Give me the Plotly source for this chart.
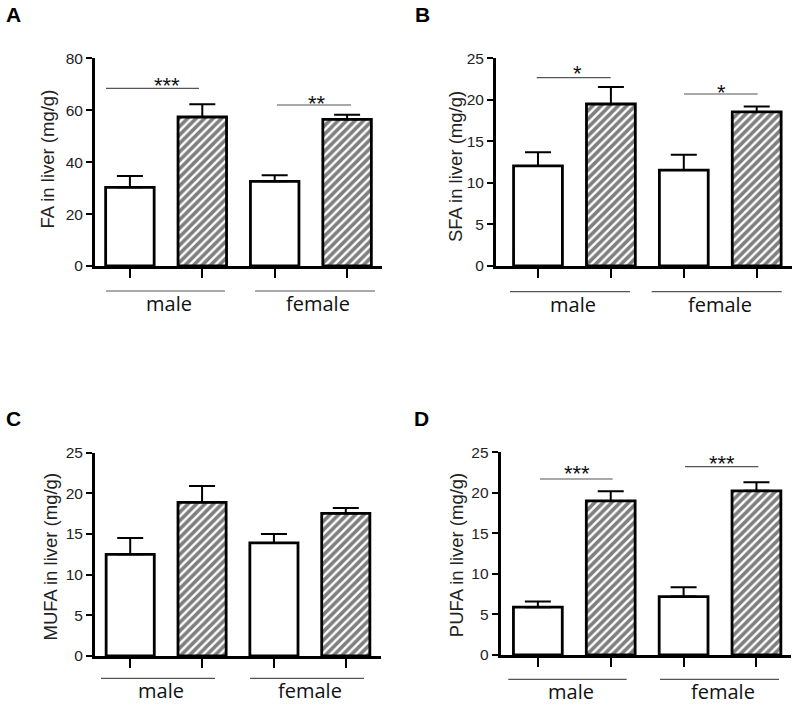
import plotly.graph_objects as go

# ---------------- data ----------------
sexes = ["male", "female"]
conditions = ["control", "treated"]

fa_ctrl = [30.3, 32.6]
fa_ctrl_err = [4.4, 2.4]
fa_trt = [57.4, 56.5]
fa_trt_err = [4.9, 1.8]

sfa_ctrl = [12.05, 11.55]
sfa_ctrl_err = [1.65, 1.85]
sfa_trt = [19.5, 18.55]
sfa_trt_err = [2.05, 0.65]

mufa_ctrl = [12.5, 13.9]
mufa_ctrl_err = [2.0, 1.1]
mufa_trt = [18.9, 17.55]
mufa_trt_err = [2.0, 0.65]

pufa_ctrl = [5.9, 7.2]
pufa_ctrl_err = [0.7, 1.15]
pufa_trt = [19.0, 20.25]
pufa_trt_err = [1.2, 1.05]

fa_ticks = [0, 20, 40, 60, 80]
sub_ticks = [0, 5, 10, 15, 20, 25]

panel_letters = ["A", "B", "C", "D"]
y_titles = ["FA in liver (mg/g)", "SFA in liver (mg/g)", "MUFA in liver (mg/g)", "PUFA in liver (mg/g)"]
# significance labels per panel (male, female)
sig_labels = [["***", "**"], ["*", "*"], [None, None], ["***", "***"]]

categories = [f"{s} {c}" for s in sexes for c in conditions]

W, H = 798, 707


def px_x(p):
    return p / W


def px_y(p):
    return 1 - p / H


panels = [
    dict(ctrl=fa_ctrl, ctrl_err=fa_ctrl_err, trt=fa_trt, trt_err=fa_trt_err, ticks=fa_ticks,
         xpx=(95, 381.7), ypx=(58.3, 266), xr=(-0.482, 3.478)),
    dict(ctrl=sfa_ctrl, ctrl_err=sfa_ctrl_err, trt=sfa_trt, trt_err=sfa_trt_err, ticks=sub_ticks,
         xpx=(496, 791.7), ypx=(58.3, 266), xr=(-0.576, 3.48)),
    dict(ctrl=mufa_ctrl, ctrl_err=mufa_ctrl_err, trt=mufa_trt, trt_err=mufa_trt_err, ticks=sub_ticks,
         xpx=(95, 381), ypx=(452.7, 656), xr=(-0.49, 3.49)),
    dict(ctrl=pufa_ctrl, ctrl_err=pufa_ctrl_err, trt=pufa_trt, trt_err=pufa_trt_err, ticks=sub_ticks,
         xpx=(500.7, 790.7), ypx=(452.3, 655), xr=(-0.51, 3.47)),
]

# layout positions (pixels) for decorations
ytitle_pos = [(47, 159.5), (455, 167), (50, 556.5), (456.7, 554.5)]
letter_pos = [(13, 14.5), (422, 14), (13, 418), (421, 418)]
group_line_pos = [
    (291, [(106, 225), (255, 375)]),
    (291.7, [(510, 630), (651.7, 781.7)]),
    (678.3, [(101, 215), (250, 364)]),
    (679.3, [(508.3, 626.7), (660, 779)]),
]
sig_line_pos = [
    [(88.3, 106, 199, 167, 80), (105, 277, 351, 317, 98.3)],
    [(77.7, 536.7, 610.7, 577.7, 68), (94, 684, 757.7, 721, 87)],
    [None, None],
    [(479, 540, 612.7, 576.7, 467.7), (466.7, 685, 758.3, 721.7, 458.3)],
]

FONT = "Liberation Sans, Arial, sans-serif"

fig = go.Figure()
layout = dict(
    width=W, height=H, margin=dict(l=0, r=0, t=0, b=0, autoexpand=False),
    paper_bgcolor="white", plot_bgcolor="white", showlegend=False,
    bargap=0, font=dict(family=FONT, color="#111"),
)
shapes = []
annotations = []

for i, p in enumerate(panels):
    xa = "x" if i == 0 else f"x{i+1}"
    ya = "y" if i == 0 else f"y{i+1}"
    xkey = "xaxis" if i == 0 else f"xaxis{i+1}"
    ykey = "yaxis" if i == 0 else f"yaxis{i+1}"

    fig.add_trace(go.Bar(
        x=[f"{s} control" for s in sexes], y=p["ctrl"], width=0.67,
        marker=dict(color="white", line=dict(color="black", width=2.8)),
        error_y=dict(type="data", symmetric=False, array=p["ctrl_err"], arrayminus=[0, 0],
                     color="black", thickness=2, width=13),
        xaxis=xa, yaxis=ya,
    ))
    fig.add_trace(go.Bar(
        x=[f"{s} treated" for s in sexes], y=p["trt"], width=0.67,
        marker=dict(color="white", line=dict(color="black", width=2.8),
                    pattern=dict(shape="/", fgcolor="black", bgcolor="white", size=6, solidity=0.6)),
        error_y=dict(type="data", symmetric=False, array=p["trt_err"], arrayminus=[0, 0],
                     color="black", thickness=2, width=13),
        xaxis=xa, yaxis=ya,
    ))

    layout[xkey] = dict(
        domain=[px_x(p["xpx"][0]), px_x(p["xpx"][1])], anchor=ya, automargin=False,
        type="category", categoryorder="array", categoryarray=categories,
        range=list(p["xr"]), showline=True, linecolor="black", linewidth=3,
        ticks="outside", ticklen=9, tickwidth=2, tickcolor="black",
        showticklabels=False, showgrid=False, zeroline=False, fixedrange=True,
    )
    layout[ykey] = dict(
        domain=[px_y(p["ypx"][1]), px_y(p["ypx"][0])], anchor=xa, automargin=False,
        range=[0, p["ticks"][-1]], tickvals=p["ticks"],
        showline=True, linecolor="black", linewidth=3,
        ticks="outside", ticklen=6, tickwidth=2, tickcolor="black",
        tickfont=dict(family=FONT, size=15.5, color="#222"),
        showgrid=False, zeroline=False, fixedrange=True,
    )

    # y title
    tx, ty = ytitle_pos[i]
    annotations.append(dict(text=y_titles[i], x=px_x(tx), y=px_y(ty), xref="paper", yref="paper",
                            textangle=-90, showarrow=False, xanchor="center", yanchor="middle",
                            font=dict(family=FONT, size=18.5, color="#222")))
    # panel letter
    lx, ly = letter_pos[i]
    annotations.append(dict(text=f"<b>{panel_letters[i]}</b>", x=px_x(lx), y=px_y(ly), xref="paper",
                            yref="paper", showarrow=False, xanchor="center", yanchor="middle",
                            font=dict(family=FONT, size=21, color="black")))
    # group lines and labels
    gy, segs = group_line_pos[i]
    for (x0, x1), s in zip(segs, sexes):
        shapes.append(dict(type="line", xref="paper", yref="paper", x0=px_x(x0), x1=px_x(x1),
                           y0=px_y(gy), y1=px_y(gy), line=dict(color="#555", width=1.2)))
        annotations.append(dict(text=s, x=px_x((x0 + x1) / 2 + 3), y=px_y(gy - 3), xref="paper",
                                yref="paper", showarrow=False, xanchor="center", yanchor="top",
                                font=dict(family="Open Sans, Liberation Sans, sans-serif", size=20,
                                          color="#111")))
    # significance
    for spec, lab in zip(sig_line_pos[i], sig_labels[i]):
        if spec is None or lab is None:
            continue
        ly_, x0, x1, sx, sy = spec
        shapes.append(dict(type="line", xref="paper", yref="paper", x0=px_x(x0), x1=px_x(x1),
                           y0=px_y(ly_), y1=px_y(ly_), line=dict(color="#555", width=1.2)))
        annotations.append(dict(text=lab, x=px_x(sx), y=px_y(sy + 5.5), xref="paper", yref="paper",
                                showarrow=False, xanchor="center", yanchor="middle",
                                font=dict(family=FONT, size=22, color="#111")))

layout["shapes"] = shapes
layout["annotations"] = annotations
fig.update_layout(**layout)
fig.write_html("out.html", config={"displayModeBar": False, "staticPlot": True},
               post_script="document.body.style.margin='0px';document.body.style.padding='0px';")
